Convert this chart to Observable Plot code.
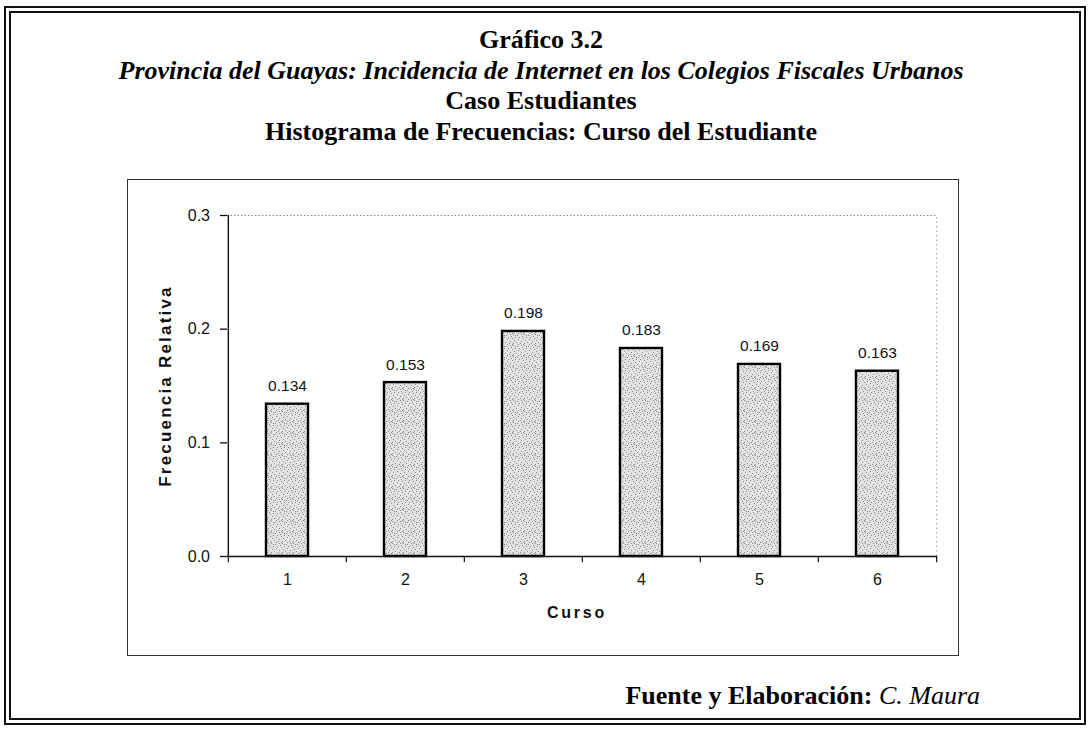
<!DOCTYPE html>
<html>
<head>
<meta charset="utf-8">
<script src="https://cdn.jsdelivr.net/npm/d3@7"></script>
<script src="https://cdn.jsdelivr.net/npm/@observablehq/plot@0.6"></script>
<style>
  html, body { margin: 0; padding: 0; background: #fff; }
  #page { position: relative; width: 1089px; height: 730px; overflow: hidden; background: #fff; }
  #frame { position: absolute; left: 4px; top: 6px; width: 1082px; height: 719px; box-sizing: border-box; border: 7px double #111; }
  .title { position: absolute; left: 0; width: 1082px; text-align: center; font-family: "Liberation Serif", "Times New Roman", serif; font-size: 26px; line-height: 30.5px; font-weight: bold; color: #000; white-space: nowrap; }
  .it { font-style: italic; }
  #chartbox { position: absolute; left: 127px; top: 179px; width: 830px; height: 475px; border: 1.5px solid #333; }
  #footer { position: absolute; right: 109px; top: 681px; font-family: "Liberation Serif", "Times New Roman", serif; font-size: 26px; line-height: 30px; white-space: nowrap; color: #000; }
</style>
</head>
<body>
<div id="page">
  <div id="frame"></div>
  <div class="title" style="top:25px">Gráfico 3.2</div>
  <div class="title it" style="top:55.5px">Provincia del Guayas: Incidencia de Internet en los Colegios Fiscales Urbanos</div>
  <div class="title" style="top:86px">Caso Estudiantes</div>
  <div class="title" style="top:116.5px">Histograma de Frecuencias: Curso del Estudiante</div>
  <div id="chartbox"></div>
  <div id="footer"><b>Fuente y Elaboración:</b> <i>C. Maura</i></div>
</div>
<script>
// Data
const cursos = ["1", "2", "3", "4", "5", "6"];
const frecuencias = [0.134, 0.153, 0.198, 0.183, 0.169, 0.163];
const etiquetas = ["0.134", "0.153", "0.198", "0.183", "0.169", "0.163"];
const yTicks = [0, 0.1, 0.2, 0.3];
const yLabel = "Frecuencia Relativa";
const xLabel = "Curso";

const data = cursos.map((c, i) => ({curso: c, freq: frecuencias[i], label: etiquetas[i]}));

const W = 830, H = 475, ML = 99, MR = 21, MT = 35, MB = 99;
const step = (W - ML - MR) / cursos.length;
const FONT = "'Liberation Sans', Arial, sans-serif";

const chart = Plot.plot({
  width: W,
  height: H,
  marginLeft: ML,
  marginRight: MR,
  marginTop: MT,
  marginBottom: MB,
  style: {fontFamily: FONT, fontSize: "16px", color: "#111", background: "white", overflow: "visible"},
  x: {domain: cursos, paddingInner: 0.64, paddingOuter: 0.32},
  y: {domain: [0, 0.3]},
  marks: [
    // top dotted gridline and right dotted border
    Plot.ruleY([0.3], {stroke: "#888", strokeWidth: 1, strokeDasharray: "1.5,2"}),
    Plot.ruleX(["6"], {dx: step / 2, y1: 0, y2: 0.3, stroke: "#999", strokeWidth: 1, strokeDasharray: "1.5,3"}),
    // bars
    Plot.barY(data, {x: "curso", y: "freq", fill: "#d8d8d8", stroke: "#000", strokeWidth: 2.4}),
    // value labels
    Plot.text(data, {x: "curso", y: "freq", text: "label", lineAnchor: "bottom", dy: -13, fontSize: 15.5, fill: "#111"}),
    // axis lines
    Plot.ruleX(["1"], {dx: -step / 2, y1: 0, y2: 0.3, stroke: "#111", strokeWidth: 1.4}),
    Plot.ruleY([0], {stroke: "#111", strokeWidth: 1.4}),
    // x boundary ticks
    Plot.ruleX(cursos, {x: d => d, dx: -step / 2, y1: 0, y2: -0.0055, stroke: "#111", strokeWidth: 1.2}),
    Plot.ruleX(["6"], {dx: step / 2, y1: 0, y2: -0.0055, stroke: "#111", strokeWidth: 1.2}),
    Plot.axisX({tickSize: 0, tickPadding: 17, label: null, fontSize: 16}),
    Plot.axisY({ticks: yTicks, tickFormat: d3.format(".1f"), tickSize: 7, tickPadding: 10.5, label: null, fontSize: 16, strokeWidth: 1.3}),
    // axis titles
    Plot.text([yLabel], {frameAnchor: "left", rotate: -90, dx: 37.5 - ML, fontWeight: "bold", fontSize: 17, fill: "#111", lineAnchor: "middle", textAnchor: "middle"}),
    Plot.text([xLabel], {frameAnchor: "bottom", dx: -5.5, dy: 61.5, lineAnchor: "bottom", fontWeight: "bold", fontSize: 16, fill: "#111"})
  ]
});

// stipple pattern for bars
const ns = "http://www.w3.org/2000/svg";
const defs = document.createElementNS(ns, "defs");
const pat = document.createElementNS(ns, "pattern");
pat.setAttribute("id", "stip");
pat.setAttribute("width", "11");
pat.setAttribute("height", "11");
pat.setAttribute("patternUnits", "userSpaceOnUse");
const bg = document.createElementNS(ns, "rect");
bg.setAttribute("width", "11"); bg.setAttribute("height", "11"); bg.setAttribute("fill", "#e2e2e2");
pat.appendChild(bg);
[[0,0],[4,1],[8,0],[2,3],[6,3],[10,4],[1,6],[5,5],[8,7],[3,8],[7,9],[10,10],[0,9],[5,10],[9,2],[2,1]].forEach(([a,b]) => {
  const r = document.createElementNS(ns, "rect");
  r.setAttribute("x", a); r.setAttribute("y", b); r.setAttribute("width", "1"); r.setAttribute("height", "1");
  r.setAttribute("fill", "#8c8c8c");
  pat.appendChild(r);
});
defs.appendChild(pat);
chart.insertBefore(defs, chart.firstChild);
chart.querySelectorAll('[fill="#d8d8d8"]').forEach(el => el.setAttribute("fill", "url(#stip)"));

// letter spacing for axis titles
chart.querySelectorAll("text").forEach(t => {
  if (t.textContent === yLabel) t.setAttribute("letter-spacing", "2.2");
  if (t.textContent === xLabel) t.setAttribute("letter-spacing", "2.8");
});

document.getElementById("chartbox").appendChild(chart);
</script>
</body>
</html>
